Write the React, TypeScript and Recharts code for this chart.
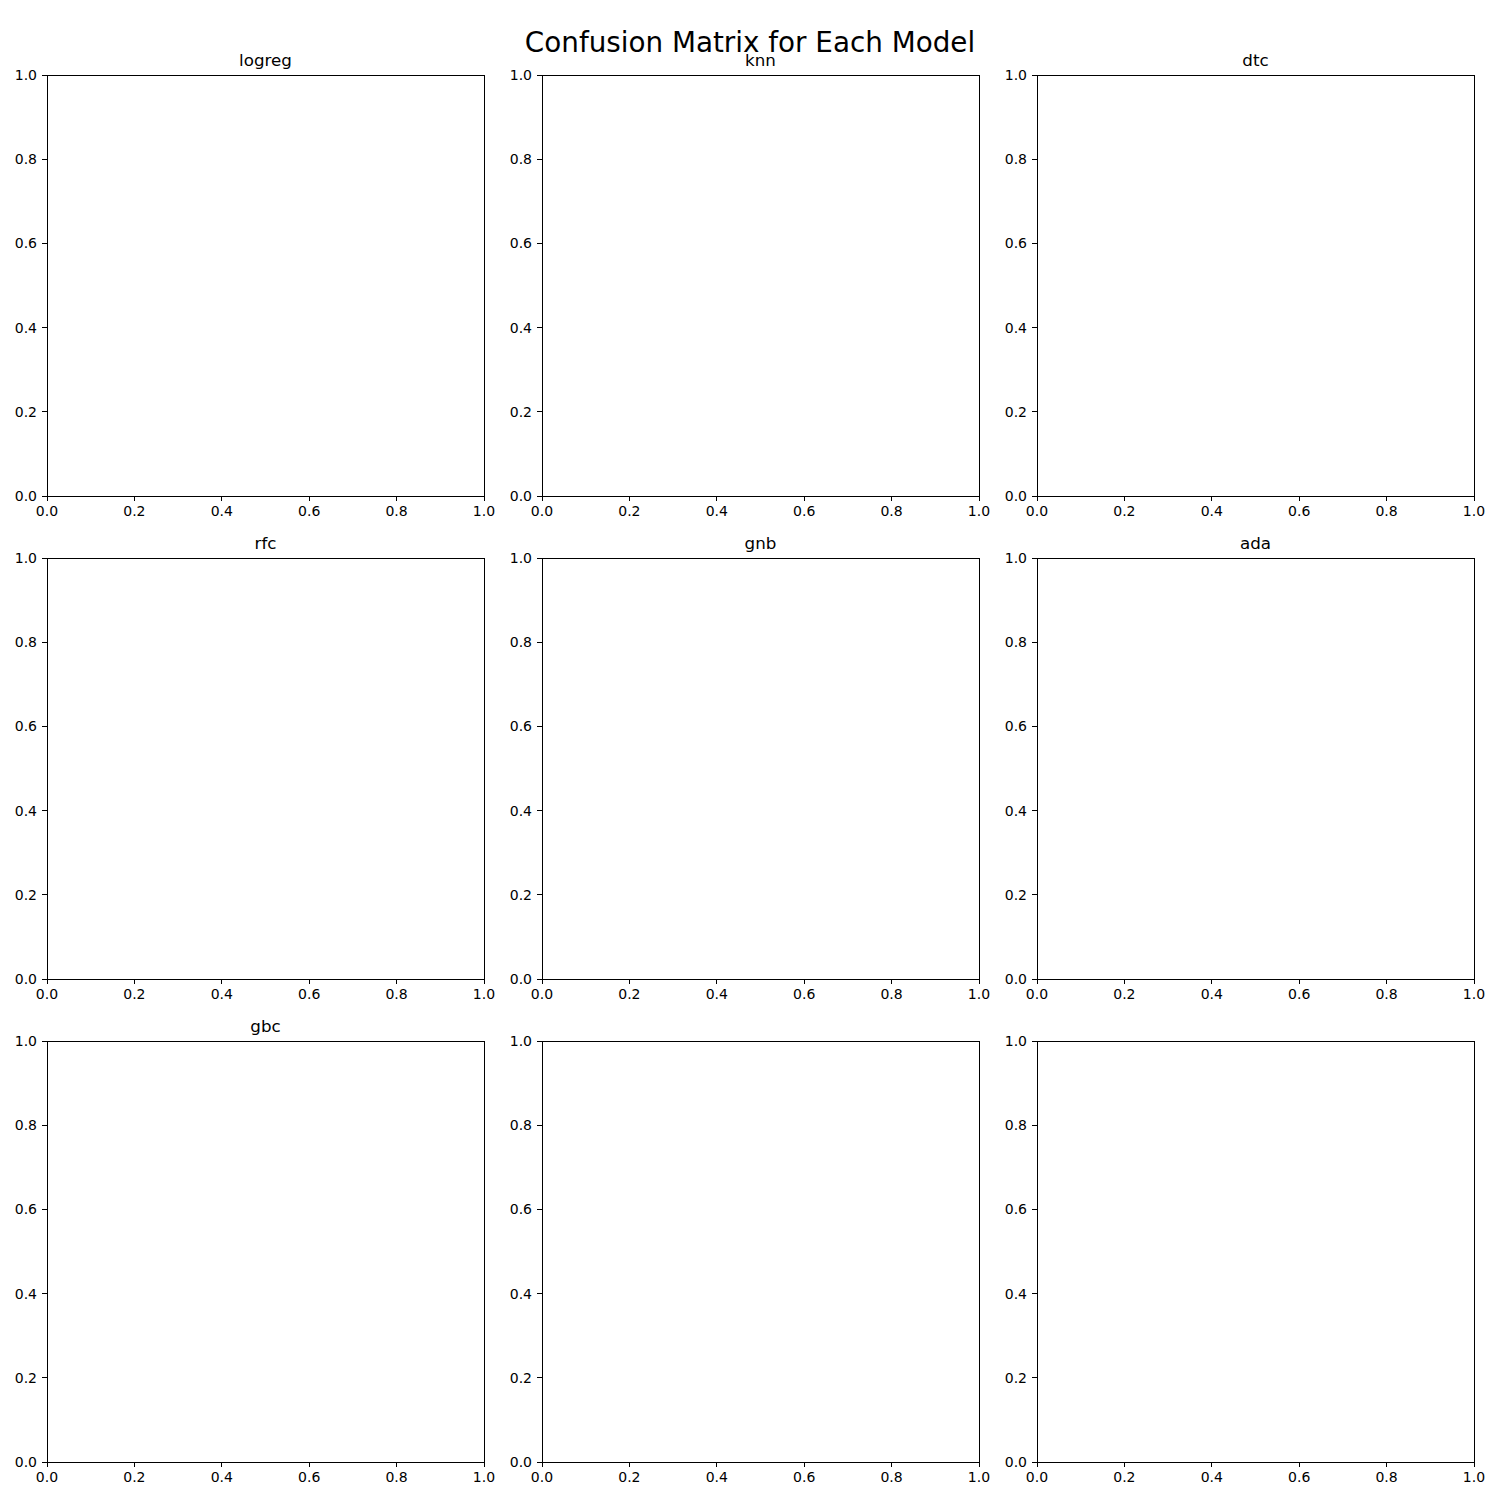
import React from "react";
import {
  ScatterChart,
  Scatter,
  XAxis,
  YAxis,
  ReferenceArea,
} from "recharts";

// model names, one per panel (the last two panels have no title)
const modelNames = ["logreg", "knn", "dtc", "rfc", "gnb", "ada", "gbc", "", ""];
const axisTicks = [0, 0.2, 0.4, 0.6, 0.8, 1.0];
// every panel is empty: no confusion matrix was drawn
const emptyPoints: { x: number; y: number }[] = [];

const FONT = "DejaVu Sans, sans-serif";
const colLefts = [47, 542, 1037];
const rowTops = [75, 558, 1041];
const PLOT_W = 437;
const PLOT_H = 421;
const Y_AXIS_W = 47;
const TOP_PAD = 12;
const RIGHT_PAD = 14;
const X_AXIS_H = 30;

const tickStyle = { fill: "#000", fontSize: 14, fontFamily: FONT };
const lineStyle = { stroke: "#000", strokeWidth: 1, shapeRendering: "crispEdges" };

function Panel({ title, left, top }: { title: string; left: number; top: number }) {
  return (
    <>
      {title && (
        <div
          style={{
            position: "absolute",
            left: left,
            width: PLOT_W,
            top: top - 25,
            textAlign: "center",
            fontFamily: FONT,
            fontSize: 16.7,
            lineHeight: "20px",
            color: "#000",
          }}
        >
          {title}
        </div>
      )}
      <div
        style={{
          position: "absolute",
          left: left - Y_AXIS_W,
          top: top - TOP_PAD,
        }}
      >
        <ScatterChart
          width={Y_AXIS_W + PLOT_W + RIGHT_PAD}
          height={TOP_PAD + PLOT_H + X_AXIS_H}
          margin={{ top: TOP_PAD, right: RIGHT_PAD, left: 0, bottom: 0 }}
        >
          <XAxis
            type="number"
            dataKey="x"
            domain={[0, 1]}
            ticks={axisTicks}
            interval={0}
            allowDataOverflow
            height={X_AXIS_H}
            tickSize={5}
            tickMargin={5}
            tickFormatter={(v: number) => v.toFixed(1)}
            tick={tickStyle}
            axisLine={lineStyle}
            tickLine={lineStyle}
          />
          <YAxis
            type="number"
            dataKey="y"
            domain={[0, 1]}
            ticks={axisTicks}
            interval={0}
            allowDataOverflow
            width={Y_AXIS_W}
            tickSize={5}
            tickMargin={5}
            tickFormatter={(v: number) => v.toFixed(1)}
            tick={tickStyle}
            axisLine={lineStyle}
            tickLine={lineStyle}
          />
          {/* axes frame (top and right spines) */}
          <ReferenceArea
            x1={0}
            x2={1}
            y1={0}
            y2={1}
            fill="none"
            fillOpacity={0}
            stroke="#000"
            strokeWidth={1}
            shapeRendering="crispEdges"
            ifOverflow="visible"
          />
          <Scatter data={emptyPoints} isAnimationActive={false} />
        </ScatterChart>
      </div>
    </>
  );
}

export default function App() {
  return (
    <div
      style={{
        position: "absolute",
        left: 0,
        top: 0,
        width: 1500,
        height: 1500,
        background: "#fff",
        overflow: "hidden",
      }}
    >
      <div
        style={{
          position: "absolute",
          left: 0,
          width: 1500,
          top: 26,
          textAlign: "center",
          fontFamily: FONT,
          fontSize: 27.8,
          lineHeight: "34px",
          color: "#000",
        }}
      >
        Confusion Matrix for Each Model
      </div>
      {modelNames.map((name, i) => (
        <Panel
          key={i}
          title={name}
          left={colLefts[i % 3]}
          top={rowTops[Math.floor(i / 3)]}
        />
      ))}
    </div>
  );
}
